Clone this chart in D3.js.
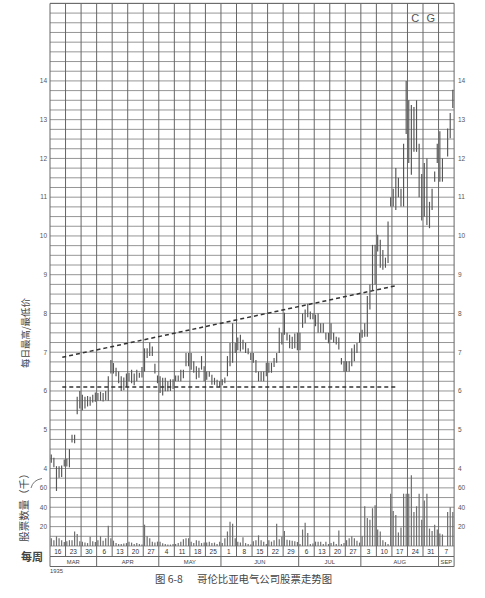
<!DOCTYPE html>
<html><head><meta charset="utf-8">
<script src="https://cdn.jsdelivr.net/npm/d3@7"></script>
<style>html,body{margin:0;padding:0;background:#fff;}svg{display:block;}</style>
</head><body>
<svg id="chart" width="485" height="598"></svg>
<script>
// ---------- DATA ----------
const weekLabels = ["16","23","30","6","13","20","27","4","11","18","25","1","8","15","22","29","6","13","20","27","3","10","17","24","31","7"];
const months = ["MAR","APR","MAY","JUN","JUL","AUG","SEP"];
const monthWeeks = [3,4,4,5,4,5,1];
const yearLabel = "1935";
const priceTicks = [4,5,6,7,8,9,10,11,12,13,14];
const volumeTicks = [20,40,60];
// daily high / low per weekly column (6 trading days each)
const high = [
 [4.36,4.28,4.06,4.06,4.08,4.23],[4.25,4.5,4.87,4.87,5.85,6.0],[5.9,5.85,5.87,5.85,5.9,5.96],
 [5.95,5.98,5.95,6.0,6.38,6.8],[6.72,6.6,6.5,6.38,6.35,6.45],[6.47,6.55,6.45,6.55,6.47,6.62],
 [7.1,7.1,7.25,7.15,6.7,6.4],[6.38,6.34,6.34,6.25,6.3,6.3],[6.4,6.4,6.55,6.55,6.98,6.98],
 [6.98,6.77,6.64,6.6,6.9,6.64],[6.5,6.5,6.42,6.34,6.29,6.25],[6.3,6.35,6.9,7.24,7.75,7.24],
 [7.38,7.45,7.32,7.24,7.1,6.98],[6.98,6.8,6.5,6.5,6.5,6.73],[6.73,6.73,6.85,6.98,7.63,7.5],
 [8.02,7.5,7.45,7.4,7.48,7.5],[7.5,8.0,8.1,8.25,8.05,8.0],[7.97,8.0,7.75,7.75,7.5,7.5],
 [7.75,7.5,7.4,7.38,6.85,6.77],[6.77,6.77,7.1,7.2,7.24,7.5],[7.58,7.75,8.45,8.75,9.77,9.77],
 [10.03,9.9,9.64,9.44,10.37,11.0],[11.22,11.75,11.5,11.22,12.38,14.0],[13.5,13.38,13.33,13.5,12.38,11.6],
 [11.88,12.0,10.88,11.22,11.66,12.38],[12.7,12.0,null,12.77,13.17,13.77]
];
const low = [
 [4.15,4.03,3.42,3.76,3.78,4.05],[4.05,4.03,4.67,4.65,5.4,5.55],[5.5,5.55,5.6,5.62,5.7,5.72],
 [5.75,5.75,5.73,5.76,5.75,6.45],[6.45,6.38,6.2,6.0,6.02,6.1],[6.25,6.2,6.15,6.25,6.34,6.35],
 [6.5,6.85,6.9,6.9,6.45,6.2],[5.95,5.88,5.99,5.99,6.0,6.05],[6.25,6.25,6.25,6.33,6.64,6.64],
 [6.55,6.47,6.3,6.34,6.55,6.25],[6.29,6.37,6.16,6.16,6.12,6.1],[6.15,6.2,6.38,6.64,6.73,6.98],
 [7.05,7.02,7.07,6.98,6.95,6.8],[6.73,6.47,6.25,6.25,6.25,6.38],[6.47,6.47,6.62,6.73,6.98,7.2],
 [7.45,7.3,7.1,7.08,7.1,7.05],[7.05,7.63,7.75,7.9,7.85,7.85],[7.67,7.5,7.5,7.5,7.32,7.23],
 [7.32,7.25,7.2,7.07,6.68,6.5],[6.5,6.5,6.64,6.77,6.98,7.24],[7.37,7.4,7.4,8.1,8.6,8.75],
 [9.6,9.18,9.13,9.18,9.3,10.76],[10.76,10.67,11.0,10.76,10.76,12.63],[11.88,11.58,12.17,12.17,11.0,10.4],
 [10.5,10.28,10.2,10.67,11.4,11.88],[11.4,11.4,null,12.05,12.52,13.3]
];
// daily volume (thousands of shares)
const volume = [
 [8,6,10,8,6,4],[5,6,6,15,12.5,5],[4.5,3.5,3,9.5,5,4],[6,10,5.5,8,21,8],[5.5,3,2,2,2.5,3],
 [4.5,3.5,2,3,2,1.5],[22,10,8,4.5,3.5,4.5],[4.5,2.8,2,1.5,1.5,2],[2,3,4.5,7,8,8],[4.5,3,6,5.5,3,3.5],
 [3.5,4.5,3,3.5,2,4.5],[3,8,15,25,23,8],[4.5,3.5,9,3,2,1.5],[5,6,11,6,4.5,2],[6,4.5,6,23,7,9.5],
 [15.5,6.5,6,5.5,5,4],[2,17,24,13.5,2,2.5],[4.5,4.5,4.5,2,4.5,2],[3,4.5,2,16,2,3],[6,8,10,8,5.5,3.5],
 [10,41,29,27,39,42],[17,15,6,4,2,54],[36,32,14,19,54,54],[54,73,35,41,54,27],[47,54,18,15.5,22,17],
 [13,12,null,35,40,35]
];
// trend lines (week position, price)
const upperTrend = [[0.79,6.87],[22.31,8.72]];
const lowerTrend = [[0.79,6.1],[22.31,6.1]];
const stockLetters = [["C",23],["G",24]];

// ---------- DRAW ----------
const svg = d3.select("#chart");
const nWeeks = weekLabels.length;
const x = d3.scaleLinear().domain([0, nWeeks]).range([50, 454.1]);
const yP = d3.scaleLinear().domain([2, 16]).range([546, 3.4]);
const yV = d3.scaleLinear().domain([0, 70]).range([546, yP(2 + 70/40)]);
const dayX = (w, d) => x(w + (d + 0.5) / 6);
const SANS = "'Liberation Sans', Arial, sans-serif";
const CJK = "'Noto Sans CJK SC', sans-serif";

// grid
const g = svg.append("g");
g.selectAll("line.h").data(d3.range(2, 16.001, 0.25)).join("line")
  .attr("x1", x(0)).attr("x2", x(nWeeks))
  .attr("y1", d => yP(d)).attr("y2", d => yP(d))
  .attr("stroke", "#8a8a8a").attr("stroke-width", 0.9);
g.selectAll("line.v").data(d3.range(0, nWeeks + 1)).join("line")
  .attr("x1", d => x(d)).attr("x2", d => x(d))
  .attr("y1", yP(16)).attr("y2", 556.5)
  .attr("stroke", "#666").attr("stroke-width", 1);
g.append("line").attr("x1", x(0)).attr("x2", x(nWeeks)).attr("y1", 556.5).attr("y2", 556.5).attr("stroke", "#666");
g.append("line").attr("x1", x(0)).attr("x2", x(nWeeks)).attr("y1", 566.5).attr("y2", 566.5).attr("stroke", "#666");
const monthStarts = [0]; monthWeeks.forEach((m, i) => monthStarts.push(monthStarts[i] + m));
g.selectAll("line.m").data(monthStarts).join("line")
  .attr("x1", d => x(d)).attr("x2", d => x(d)).attr("y1", 556.5).attr("y2", 566.5)
  .attr("stroke", "#666");
g.append("line").attr("x1", x(0)).attr("x2", x(nWeeks)).attr("y1", yP(16)).attr("y2", yP(16)).attr("stroke", "#666");

// flatten data
const days = [];
high.forEach((wk, w) => wk.forEach((h, d) => days.push({w, d, h, l: low[w][d], v: volume[w][d]})));

// volume bars
svg.append("g").selectAll("line").data(days.filter(d => d.v != null)).join("line")
  .attr("x1", d => dayX(d.w, d.d)).attr("x2", d => dayX(d.w, d.d))
  .attr("y1", yV(0)).attr("y2", d => yV(d.v))
  .attr("stroke", "#6e6e6e").attr("stroke-width", 1.2);

// price bars
svg.append("g").selectAll("line").data(days.filter(d => d.h != null)).join("line")
  .attr("x1", d => dayX(d.w, d.d)).attr("x2", d => dayX(d.w, d.d))
  .attr("y1", d => yP(d.h)).attr("y2", d => yP(d.l))
  .attr("stroke", "#555").attr("stroke-width", 1.15);

// trend lines
const tl = d3.line().x(d => x(d[0])).y(d => yP(d[1]));
[upperTrend, lowerTrend].forEach(t => svg.append("path").attr("d", tl(t))
  .attr("fill", "none").attr("stroke", "#333").attr("stroke-width", 1.5).attr("stroke-dasharray", "4,3"));

// tick labels
const tickG = svg.append("g").attr("font-family", SANS).attr("font-size", 6.5).attr("fill", "#555");
priceTicks.forEach(p => {
  tickG.append("text").attr("x", 47).attr("y", yP(p) + 2.3).attr("text-anchor", "end").text(p);
  tickG.append("text").attr("x", 458).attr("y", yP(p) + 2.3).attr("text-anchor", "start").text(p);
});
volumeTicks.forEach(v => {
  tickG.append("text").attr("x", 47).attr("y", yV(v) + 2.3).attr("text-anchor", "end").text(v);
  tickG.append("text").attr("x", 458).attr("y", yV(v) + 2.3).attr("text-anchor", "start").text(v);
});

// week labels
svg.append("g").selectAll("text").data(weekLabels).join("text")
  .attr("x", (d, i) => x(i + 0.5)).attr("y", 553.8).attr("text-anchor", "middle")
  .attr("font-family", SANS).attr("font-size", 6.5).attr("fill", "#333").text(d => d);
// month labels
svg.append("g").selectAll("text").data(months).join("text")
  .attr("x", (d, i) => x(monthStarts[i] + monthWeeks[i] / 2)).attr("y", 563.6).attr("text-anchor", "middle")
  .attr("font-family", SANS).attr("font-size", 5.8).attr("fill", "#444").text(d => d);
svg.append("text").attr("x", 50).attr("y", 572.5).attr("font-family", SANS).attr("font-size", 5.8)
  .attr("fill", "#444").text(yearLabel);

// stock letters
svg.append("g").selectAll("text").data(stockLetters).join("text")
  .attr("x", d => x(d[1] + 0.5)).attr("y", 21.7).attr("text-anchor", "middle")
  .attr("font-family", SANS).attr("font-size", 11).attr("fill", "#555").text(d => d[0]);

// axis titles
svg.append("text").attr("transform", "translate(29,333) rotate(-90)").attr("text-anchor", "middle")
  .attr("font-family", CJK).attr("font-size", 9.5).attr("fill", "#444").text("每日最高/最低价");
svg.append("text").attr("transform", "translate(28,505) rotate(-90)").attr("text-anchor", "middle")
  .attr("font-family", CJK).attr("font-size", 10.5).attr("fill", "#444").text("股票数量（千）");
svg.append("path").attr("d", "M31,488 Q33,480 42,478.5").attr("fill", "none").attr("stroke", "#555").attr("stroke-width", 0.8);
svg.append("text").attr("x", 43).attr("y", 561).attr("text-anchor", "end")
  .attr("font-family", CJK).attr("font-size", 11).attr("font-weight", 700).attr("fill", "#444").text("每周");

// caption
svg.append("text").attr("x", 155).attr("y", 582.5).attr("font-family", CJK).attr("font-size", 10.4)
  .attr("fill", "#444").text("图 6-8");
svg.append("text").attr("x", 197).attr("y", 582.5).attr("font-family", CJK).attr("font-size", 10.4)
  .attr("fill", "#444").text("哥伦比亚电气公司股票走势图");
</script>
</body></html>
